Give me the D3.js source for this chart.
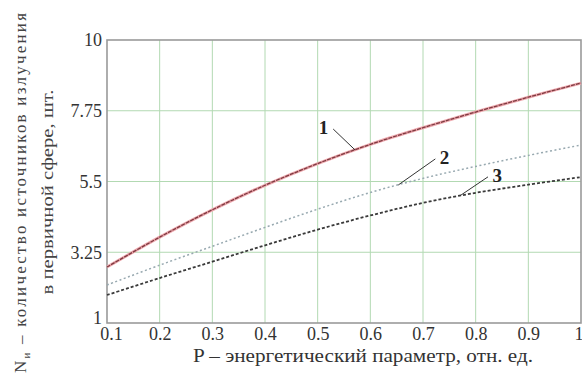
<!DOCTYPE html>
<html>
<head>
<meta charset="utf-8">
<script src="https://cdn.jsdelivr.net/npm/d3@7/dist/d3.min.js"></script>
<style>
  html, body { margin: 0; padding: 0; background: #fff; }
  svg { display: block; }
  svg text { font-family: "Liberation Serif", "Times New Roman", "DejaVu Serif", serif !important; }
</style>
</head>
<body>
<svg id="chart" width="582" height="383"></svg>
<script>
// Energy parameter P (relative units)
const pValues = [0.1, 0.2, 0.3, 0.4, 0.5, 0.6, 0.7, 0.8, 0.9, 1.0];
// Number of radiation sources in the primary sphere, three cases
const curve1 = [2.78, 3.73, 4.6, 5.38, 6.07, 6.68, 7.21, 7.71, 8.18, 8.63];
const curve2 = [2.21, 2.84, 3.44, 4.04, 4.62, 5.15, 5.6, 5.98, 6.33, 6.66];
const curve3 = [1.89, 2.43, 2.95, 3.47, 3.97, 4.42, 4.82, 5.14, 5.40, 5.64];
const xTicks = [0.1, 0.2, 0.3, 0.4, 0.5, 0.6, 0.7, 0.8, 0.9, 1];
const xTickLabels = ["0.1", "0.2", "0.3", "0.4", "0.5", "0.6", "0.7", "0.8", "0.9", "1"];
const yTicks = [1, 3.25, 5.5, 7.75, 10];
const yTickLabels = ["1", "3.25", "5.5", "7.75", "10"];
const curveLabels = ["1", "2", "3"];

const svg = d3.select("#chart");
const plot = { left: 107, right: 581, top: 40, bottom: 323 };

const x = d3.scaleLinear().domain([0.1, 1]).range([plot.left, plot.right]);
const y = d3.scaleLinear().domain([1, 10]).range([plot.bottom, plot.top]);

// grid
const grid = svg.append("g");
grid.selectAll(".gx").data(xTicks.slice(1, -1)).join("line")
  .attr("x1", d => x(d)).attr("x2", d => x(d))
  .attr("y1", plot.top).attr("y2", plot.bottom)
  .attr("stroke", "#b2d9b2").attr("stroke-width", 1);
grid.selectAll(".gy").data(yTicks.slice(1, -1)).join("line")
  .attr("x1", plot.left).attr("x2", plot.right)
  .attr("y1", d => y(d)).attr("y2", d => y(d))
  .attr("stroke", "#b2d9b2").attr("stroke-width", 1);

// frame
svg.append("rect")
  .attr("x", plot.left).attr("y", plot.top)
  .attr("width", plot.right - plot.left).attr("height", plot.bottom - plot.top)
  .attr("fill", "none").attr("stroke", "#9a9a9a").attr("stroke-width", 1.6);

// axes (labels only, drawn with d3 axis generators)
const yAxis = d3.axisLeft(y).tickValues(yTicks)
  .tickFormat((d, i) => yTickLabels[i]).tickSize(0).tickPadding(5);
const gy = svg.append("g").attr("transform", `translate(${plot.left},0)`).call(yAxis);
gy.select(".domain").remove();
gy.selectAll("text").style("font-size", "18px").attr("fill", "#333")
  .attr("dy", (d, i) => i === 0 ? "0em" : "0.32em");

const xAxis = d3.axisBottom(x).tickValues(xTicks)
  .tickFormat((d, i) => xTickLabels[i]).tickSize(0).tickPadding(4);
const gx = svg.append("g").attr("transform", `translate(0,${plot.bottom})`).call(xAxis);
gx.select(".domain").remove();
gx.selectAll("text").style("font-size", "18px").attr("fill", "#333")
  .attr("text-anchor", (d, i) => i === xTicks.length - 1 ? "end" : "middle")
  .attr("dx", (d, i) => i === 0 ? 4 : (i === xTicks.length - 1 ? 2 : 0));

// curves
const line = d3.line().x((d, i) => x(pValues[i])).y(d => y(d)).curve(d3.curveCatmullRom);

svg.append("path").datum(curve1).attr("d", line)
  .attr("fill", "none").attr("stroke", "#eea9af").attr("stroke-width", 3);
svg.append("path").datum(curve1).attr("d", line)
  .attr("fill", "none").attr("stroke", "#7e3a40").attr("stroke-width", 1.3)
  .attr("stroke-dasharray", "4,1");

svg.append("path").datum(curve2).attr("d", line)
  .attr("fill", "none").attr("stroke", "#98a9b0").attr("stroke-width", 1.5)
  .attr("stroke-dasharray", "2,2.5");

svg.append("path").datum(curve3).attr("d", line)
  .attr("fill", "none").attr("stroke", "#3a3a3a").attr("stroke-width", 1.8)
  .attr("stroke-dasharray", "3,2");

// curve number callouts with leader lines
const callouts = [
  { label: curveLabels[0], p: 0.571, v: curve1, tx: 0.52, ty: 7.2, off: 5 },
  { label: curveLabels[1], p: 0.653, v: curve2, tx: 0.75, ty: 6.25, off: -14 },
  { label: curveLabels[2], p: 0.77, v: curve3, tx: 0.85, ty: 5.68, off: -14 }
];
function interp(arr, p) {
  return d3.scaleLinear().domain(pValues).range(arr)(p);
}
callouts.forEach(c => {
  const px = x(c.p), py = y(interp(c.v, c.p));
  const tx = x(c.tx), ty = y(c.ty);
  svg.append("line")
    .attr("x1", tx + c.off).attr("y1", ty + 1)
    .attr("x2", px).attr("y2", py)
    .attr("stroke", "#333").attr("stroke-width", 1);
  svg.append("text").attr("x", tx).attr("y", ty + 6)
    .attr("text-anchor", "end").style("font-size", "19px").attr("font-weight", "bold")
    .attr("fill", "#222").text(c.label);
});

// axis titles
svg.append("text")
  .attr("x", 363).attr("y", 362)
  .attr("text-anchor", "middle").style("font-size", "18px").attr("fill", "#333")
  .attr("textLength", 340).attr("lengthAdjust", "spacingAndGlyphs")
  .text("P – энергетический параметр, отн. ед.");

const yt1 = svg.append("text")
  .attr("transform", "translate(26,193) rotate(-90)")
  .attr("text-anchor", "middle").style("font-size", "17px").attr("fill", "#444")
  .attr("textLength", 360).attr("lengthAdjust", "spacing");
yt1.append("tspan").text("N");
yt1.append("tspan").style("font-size", "11px").attr("dy", 4).text("и");
yt1.append("tspan").attr("dy", -4).text(" – количество источников излучения");

svg.append("text")
  .attr("transform", "translate(53,192) rotate(-90)")
  .attr("text-anchor", "middle").style("font-size", "17px").attr("fill", "#444")
  .attr("textLength", 205).attr("lengthAdjust", "spacingAndGlyphs")
  .text("в первичной сфере, шт.");
</script>
</body>
</html>
